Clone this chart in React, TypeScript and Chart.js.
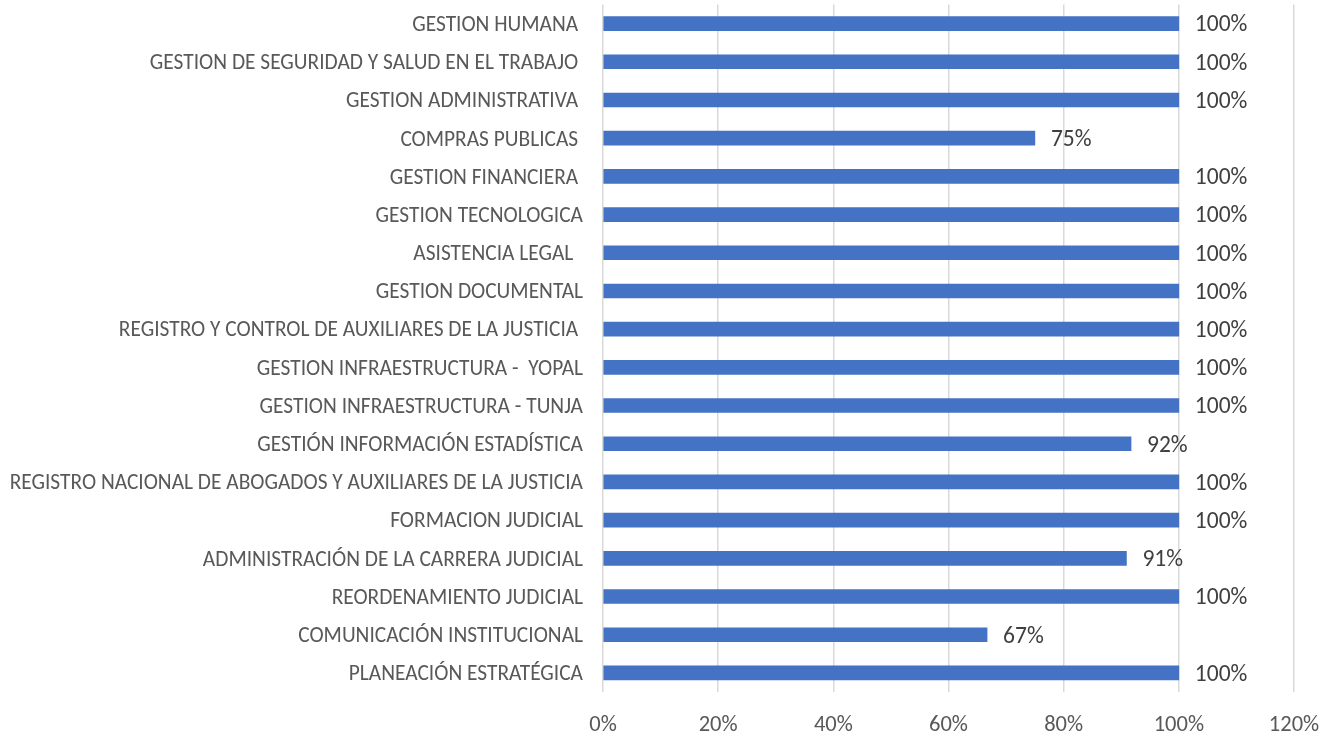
import React, { useEffect, useRef } from "react";
import { Chart, registerables } from "chart.js";

Chart.register(...registerables);

const categories = [
  "GESTION HUMANA ",
  "GESTION DE SEGURIDAD Y SALUD EN EL TRABAJO ",
  "GESTION ADMINISTRATIVA ",
  "COMPRAS PUBLICAS ",
  "GESTION FINANCIERA ",
  "GESTION TECNOLOGICA",
  "ASISTENCIA LEGAL  ",
  "GESTION DOCUMENTAL",
  "REGISTRO Y CONTROL DE AUXILIARES DE LA JUSTICIA ",
  "GESTION INFRAESTRUCTURA -  YOPAL",
  "GESTION INFRAESTRUCTURA - TUNJA",
  "GESTIÓN INFORMACIÓN ESTADÍSTICA",
  "REGISTRO NACIONAL DE ABOGADOS Y AUXILIARES DE LA JUSTICIA",
  "FORMACION JUDICIAL",
  "ADMINISTRACIÓN DE LA CARRERA JUDICIAL",
  "REORDENAMIENTO JUDICIAL",
  "COMUNICACIÓN INSTITUCIONAL",
  "PLANEACIÓN ESTRATÉGICA",
];

const values = [100, 100, 100, 75, 100, 100, 100, 100, 100, 100, 100, 91.7, 100, 100, 90.9, 100, 66.7, 100];

const xTicks = [0, 20, 40, 60, 80, 100, 120];

const FONT = "Carlito, Calibri, 'Noto Sans', sans-serif";

const valueLabels = {
  id: "valueLabels",
  afterDatasetsDraw(chart: any) {
    const ctx = chart.ctx;
    const meta = chart.getDatasetMeta(0);
    ctx.save();
    ctx.font = `23.5px ${FONT}`;
    ctx.fillStyle = "#404040";
    ctx.textAlign = "left";
    ctx.textBaseline = "middle";
    meta.data.forEach((bar: any, i: number) => {
      const v = values[i];
      ctx.fillText(`${Math.round(v)}%`, bar.x + 16, bar.y + 2);
    });
    ctx.restore();
  },
};

export default function App() {
  const ref = useRef<HTMLCanvasElement | null>(null);
  useEffect(() => {
    if (!ref.current) return;
    const chart = new Chart(ref.current, {
      type: "bar",
      data: {
        labels: categories,
        datasets: [
          {
            data: values,
            backgroundColor: "#4472C4",
            barThickness: 14,
          },
        ],
      },
      options: {
        indexAxis: "y",
        animation: false,
        responsive: false,
        maintainAspectRatio: false,
        layout: { padding: { top: 4.5, right: 40, left: 0, bottom: 0 } },
        plugins: { legend: { display: false }, tooltip: { enabled: false } },
        scales: {
          x: {
            min: 0,
            max: 120,
            afterBuildTicks: (s: any) => {
              s.ticks = xTicks.map((v) => ({ value: v }));
            },
            afterFit: (s: any) => {
              s.height = 44;
              s.paddingLeft = 0;
              s.paddingRight = 0;
            },
            ticks: {
              callback: (v: any) => `${v}%`,
              color: "#595959",
              font: { family: FONT, size: 22.5 },
              padding: 20,
              maxRotation: 0,
            },
            grid: { color: "#d9d9d9", lineWidth: 1.5, drawTicks: false },
            border: { display: false },
          },
          y: {
            afterFit: (s: any) => {
              s.width = 603;
              s.paddingTop = 0;
              s.paddingBottom = 0;
            },
            ticks: {
              color: "#595959",
              font: { family: FONT, size: 21.4 },
              padding: 20,
              labelOffset: 2,
              autoSkip: false,
            },
            grid: { display: false, drawTicks: false },
            border: { display: false },
          },
        },
      },
      plugins: [valueLabels],
    });
    return () => chart.destroy();
  }, []);
  return (
    <div style={{ position: "absolute", left: 0, top: 0, width: 1334, height: 736, background: "#fff" }}>
      <canvas ref={ref} width={1334} height={736} style={{ width: 1334, height: 736 }} />
    </div>
  );
}
